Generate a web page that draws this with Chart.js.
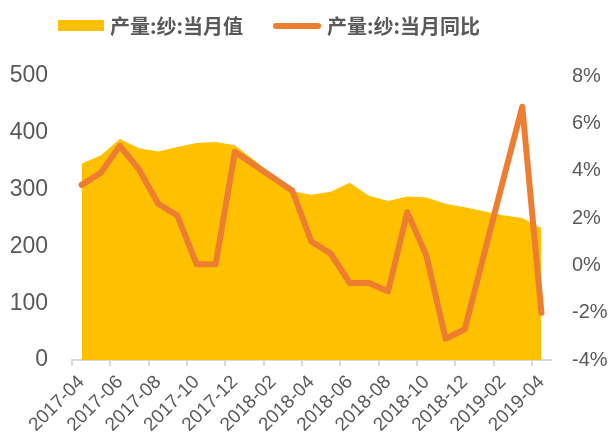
<!DOCTYPE html>
<html>
<head>
<meta charset="utf-8">
<script src="https://cdn.jsdelivr.net/npm/chart.js@4"></script>
<style>
  html, body { margin: 0; padding: 0; background: #fff; }
  #wrap { width: 608px; height: 446px; }
</style>
</head>
<body>
<div id="wrap"><canvas id="yarnChart" width="608" height="446"></canvas></div>
<script>
// months 2017-04 .. 2019-04
const months = ['2017-04','2017-05','2017-06','2017-07','2017-08','2017-09','2017-10','2017-11','2017-12',
  '2018-01','2018-02','2018-03','2018-04','2018-05','2018-06','2018-07','2018-08','2018-09','2018-10',
  '2018-11','2018-12','2019-01','2019-02','2019-03','2019-04'];
// 产量:纱:当月值 (left axis)
const monthlyOutput = [346, 360, 389, 373, 367, 375, 382, 384, 378, 352, 325, 297, 291, 296, 312,
  289, 280, 288, 286, 275, 269, 262, 255, 250, 232];
// 产量:纱:当月同比 (%) (right axis)
const yoyPct = [3.4, 3.9, 5.05, 4.05, 2.6, 2.1, 0.05, 0.05, 4.8, 4.25, 3.7, 3.15, 1.0, 0.5, -0.75,
  -0.75, -1.1, 2.25, 0.4, -3.1, -2.7, 0.45, 3.6, 6.7, -2.0];
const leftTicks = [0, 100, 200, 300, 400, 500];
const rightTicks = [-4, -2, 0, 2, 4, 6, 8];

const seriesNames = ['产量:纱:当月值', '产量:纱:当月同比'];
const grey = '#595959';
const yellow = '#FFC000';
const orange = '#ED7D31';

// legend drawn by hand so it sits where the original puts it
const topLegend = {
  id: 'topLegend',
  afterDraw(chart) {
    const ctx = chart.ctx;
    ctx.save();
    ctx.fillStyle = yellow;
    ctx.fillRect(58, 20, 46, 11);
    ctx.strokeStyle = orange;
    ctx.lineWidth = 6;
    ctx.lineCap = 'round';
    ctx.beginPath();
    ctx.moveTo(276, 26);
    ctx.lineTo(318, 26);
    ctx.stroke();
    ctx.fillStyle = grey;
    ctx.font = "bold 20px 'Noto Sans CJK SC', sans-serif";
    ctx.textBaseline = 'middle';
    ctx.fillText(seriesNames[0], 110, 26);
    ctx.fillText(seriesNames[1], 327, 26);
    ctx.restore();
  }
};

new Chart(document.getElementById('yarnChart').getContext('2d'), {
  type: 'line',
  data: {
    labels: months,
    datasets: [
      {
        label: seriesNames[0],
        data: monthlyOutput,
        yAxisID: 'y',
        fill: 'origin',
        backgroundColor: yellow,
        borderColor: yellow,
        borderWidth: 0,
        pointRadius: 0,
        tension: 0,
        order: 2
      },
      {
        label: seriesNames[1],
        data: yoyPct,
        yAxisID: 'y1',
        fill: false,
        borderColor: orange,
        backgroundColor: orange,
        borderWidth: 6,
        borderJoinStyle: 'round',
        borderCapStyle: 'round',
        pointRadius: 0,
        tension: 0,
        order: 1
      }
    ]
  },
  options: {
    responsive: false,
    animation: false,
    layout: { padding: { left: 0, right: 0, top: 76, bottom: 0 } },
    plugins: {
      tooltip: { enabled: false },
      legend: { display: false }
    },
    scales: {
      x: {
        offset: true,
        grid: {
          offset: true,
          drawOnChartArea: false,
          tickLength: 6,
          lineWidth: 2,
          color: ctx => (ctx.index % 2 === 0 ? '#D9D9D9' : 'rgba(0,0,0,0)')
        },
        border: { color: '#D9D9D9', width: 2 },
        ticks: {
          autoSkip: false,
          maxRotation: 45,
          minRotation: 45,
          padding: 5,
          color: grey,
          font: { family: "'Liberation Sans', Arial, sans-serif", size: 19 },
          callback: function (v, i) { return i % 2 === 0 ? this.getLabelForValue(v) : ''; }
        },
        afterFit: s => { s.height = 86; }
      },
      y: {
        position: 'left',
        min: 0,
        max: 500,
        grid: { display: false, drawTicks: false },
        border: { display: false },
        afterBuildTicks: s => { s.ticks = leftTicks.map(v => ({ value: v })); },
        ticks: {
          padding: 24,
          color: grey,
          font: { family: "'Liberation Sans', Arial, sans-serif", size: 23 }
        },
        afterFit: s => { s.width = 72; }
      },
      y1: {
        position: 'right',
        min: -4,
        max: 8,
        grid: { display: false, drawTicks: false },
        border: { display: false },
        afterBuildTicks: s => { s.ticks = rightTicks.map(v => ({ value: v })); },
        ticks: {
          padding: 21,
          color: grey,
          font: { family: "'Liberation Sans Narrow', 'Liberation Sans', Arial, sans-serif", size: 20 },
          callback: v => v + '%'
        },
        afterFit: s => { s.width = 57; }
      }
    }
  },
  plugins: [topLegend]
});
</script>
</body>
</html>
